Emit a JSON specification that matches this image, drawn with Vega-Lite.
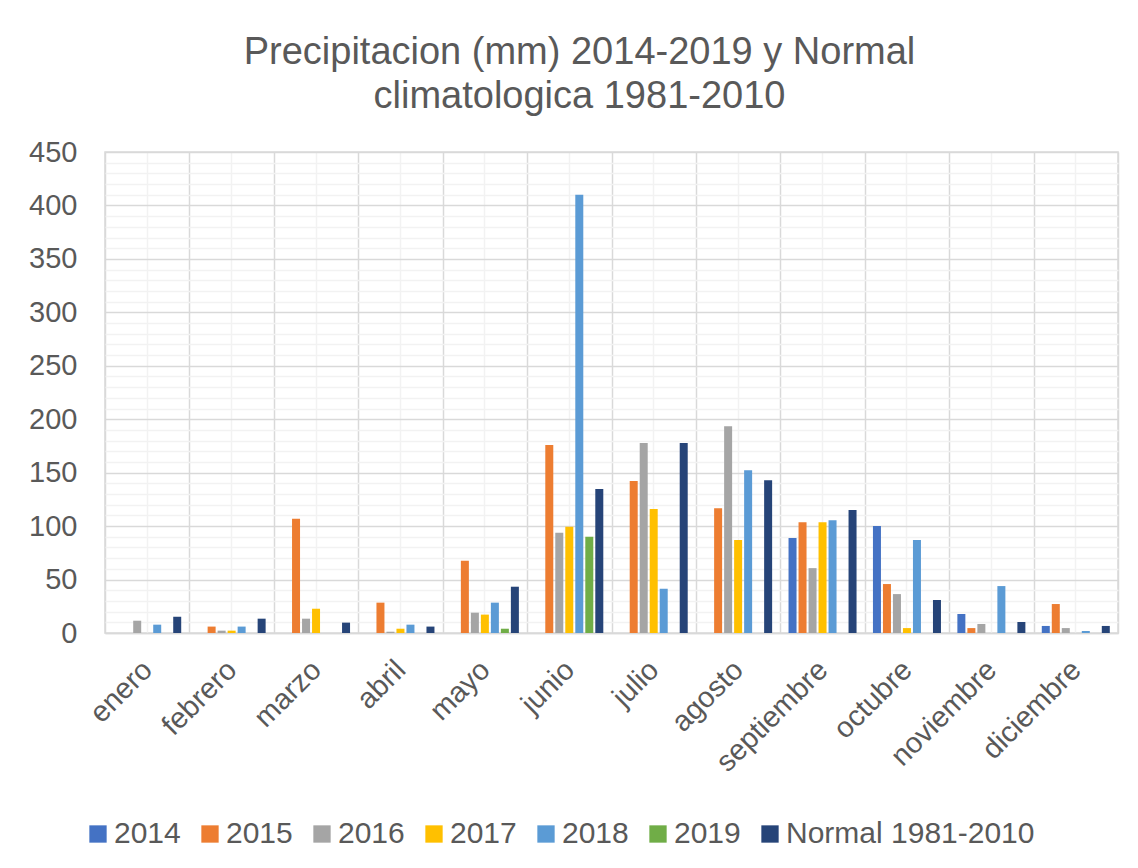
{
  "$schema": "https://vega.github.io/schema/vega-lite/v6.json",
  "width": 1013,
  "height": 481,
  "autosize": "none",
  "padding": {"left": 105, "top": 152, "right": 20, "bottom": 235},
  "background": "white",
  "title": {
    "text": ["Precipitacion (mm) 2014-2019 y Normal", "climatologica 1981-2010"],
    "fontSize": 38,
    "fontWeight": "normal",
    "color": "#595959",
    "anchor": "middle",
    "dx": -32,
    "offset": 22,
    "lineHeight": 44
  },
  "data": {
    "values": [
      {"mes": "enero", "serie": "2016", "valor": 11.5},
      {"mes": "enero", "serie": "2018", "valor": 7.8},
      {"mes": "enero", "serie": "Normal 1981-2010", "valor": 15.2},
      {"mes": "febrero", "serie": "2015", "valor": 6.0},
      {"mes": "febrero", "serie": "2016", "valor": 2.2},
      {"mes": "febrero", "serie": "2017", "valor": 2.2},
      {"mes": "febrero", "serie": "2018", "valor": 6.0},
      {"mes": "febrero", "serie": "Normal 1981-2010", "valor": 13.4},
      {"mes": "marzo", "serie": "2015", "valor": 107},
      {"mes": "marzo", "serie": "2016", "valor": 13.4},
      {"mes": "marzo", "serie": "2017", "valor": 22.7},
      {"mes": "marzo", "serie": "Normal 1981-2010", "valor": 9.7},
      {"mes": "abril", "serie": "2015", "valor": 28.4},
      {"mes": "abril", "serie": "2016", "valor": 1.2},
      {"mes": "abril", "serie": "2017", "valor": 4.0},
      {"mes": "abril", "serie": "2018", "valor": 7.8},
      {"mes": "abril", "serie": "Normal 1981-2010", "valor": 6.0},
      {"mes": "mayo", "serie": "2015", "valor": 67.6},
      {"mes": "mayo", "serie": "2016", "valor": 19.0},
      {"mes": "mayo", "serie": "2017", "valor": 17.2},
      {"mes": "mayo", "serie": "2018", "valor": 28.4},
      {"mes": "mayo", "serie": "2019", "valor": 4.0},
      {"mes": "mayo", "serie": "Normal 1981-2010", "valor": 43.3},
      {"mes": "junio", "serie": "2015", "valor": 176},
      {"mes": "junio", "serie": "2016", "valor": 93.7},
      {"mes": "junio", "serie": "2017", "valor": 99.4},
      {"mes": "junio", "serie": "2018", "valor": 410},
      {"mes": "junio", "serie": "2019", "valor": 90},
      {"mes": "junio", "serie": "Normal 1981-2010", "valor": 134.8},
      {"mes": "julio", "serie": "2015", "valor": 142.3},
      {"mes": "julio", "serie": "2016", "valor": 177.8},
      {"mes": "julio", "serie": "2017", "valor": 116.1},
      {"mes": "julio", "serie": "2018", "valor": 41.4},
      {"mes": "julio", "serie": "Normal 1981-2010", "valor": 177.8},
      {"mes": "agosto", "serie": "2015", "valor": 116.8},
      {"mes": "agosto", "serie": "2016", "valor": 193.4},
      {"mes": "agosto", "serie": "2017", "valor": 86.9},
      {"mes": "agosto", "serie": "2018", "valor": 152.3},
      {"mes": "agosto", "serie": "Normal 1981-2010", "valor": 143},
      {"mes": "septiembre", "serie": "2014", "valor": 88.8},
      {"mes": "septiembre", "serie": "2015", "valor": 103.7},
      {"mes": "septiembre", "serie": "2016", "valor": 60.7},
      {"mes": "septiembre", "serie": "2017", "valor": 103.7},
      {"mes": "septiembre", "serie": "2018", "valor": 105.5},
      {"mes": "septiembre", "serie": "Normal 1981-2010", "valor": 115},
      {"mes": "octubre", "serie": "2014", "valor": 100},
      {"mes": "octubre", "serie": "2015", "valor": 45.8},
      {"mes": "octubre", "serie": "2016", "valor": 36.4},
      {"mes": "octubre", "serie": "2017", "valor": 4.6},
      {"mes": "octubre", "serie": "2018", "valor": 86.9},
      {"mes": "octubre", "serie": "Normal 1981-2010", "valor": 30.9},
      {"mes": "noviembre", "serie": "2014", "valor": 17.8},
      {"mes": "noviembre", "serie": "2015", "valor": 4.6},
      {"mes": "noviembre", "serie": "2016", "valor": 8.4},
      {"mes": "noviembre", "serie": "2018", "valor": 43.9},
      {"mes": "noviembre", "serie": "Normal 1981-2010", "valor": 10.3},
      {"mes": "diciembre", "serie": "2014", "valor": 6.6},
      {"mes": "diciembre", "serie": "2015", "valor": 27.1},
      {"mes": "diciembre", "serie": "2016", "valor": 4.6},
      {"mes": "diciembre", "serie": "2018", "valor": 1.9},
      {"mes": "diciembre", "serie": "Normal 1981-2010", "valor": 6.6}
    ]
  },
  "layer": [
    {
      "mark": {"type": "rule", "opacity": 0},
      "encoding": {
        "x": {
          "field": "mes",
          "type": "nominal",
          "sort": ["enero", "febrero", "marzo", "abril", "mayo", "junio", "julio", "agosto", "septiembre", "octubre", "noviembre", "diciembre"],
          "scale": {"paddingInner": 0, "paddingOuter": 0},
          "axis": {
            "orient": "bottom",
            "title": null,
            "labels": false,
            "ticks": false,
            "domain": false,
            "grid": true,
            "gridColor": "#f2f2f2",
            "gridWidth": 1.5
          }
        }
      }
    },
    {
      "mark": {"type": "bar"},
      "encoding": {
        "x": {
          "field": "mes",
          "type": "nominal",
          "sort": ["enero", "febrero", "marzo", "abril", "mayo", "junio", "julio", "agosto", "septiembre", "octubre", "noviembre", "diciembre"],
          "axis": {
            "orient": "bottom",
            "title": null,
            "labelAngle": -45,
            "labelFontSize": 29,
            "labelColor": "#595959",
            "labelPadding": 22,
            "labelOffset": -10,
            "ticks": false,
            "domainColor": "#d9d9d9",
            "domainWidth": 1.5,
            "grid": true,
            "tickBand": "extent",
            "gridColor": "#d9d9d9",
            "gridWidth": 1.5
          }
        },
        "xOffset": {
          "field": "serie",
          "type": "nominal",
          "sort": ["2014", "2015", "2016", "2017", "2018", "2019", "Normal 1981-2010"],
          "scale": {"paddingInner": 0.2, "paddingOuter": 0.82}
        },
        "y": {
          "field": "valor",
          "type": "quantitative",
          "scale": {"domain": [0, 450], "nice": false},
          "axis": {
            "title": null,
            "values": [0, 10, 20, 30, 40, 50, 60, 70, 80, 90, 100, 110, 120, 130, 140, 150, 160, 170, 180, 190, 200, 210, 220, 230, 240, 250, 260, 270, 280, 290, 300, 310, 320, 330, 340, 350, 360, 370, 380, 390, 400, 410, 420, 430, 440, 450],
            "labelExpr": "datum.value % 50 === 0 ? datum.label : ''",
            "labelOverlap": false,
            "labelFontSize": 29,
            "labelColor": "#595959",
            "labelPadding": 28,
            "ticks": false,
            "domain": false,
            "grid": true,
            "gridWidth": 1.5,
            "gridColor": {"condition": {"test": "datum.value % 50 === 0", "value": "#d9d9d9"}, "value": "#f2f2f2"}
          }
        },
        "color": {
          "field": "serie",
          "type": "nominal",
          "scale": {
            "domain": ["2014", "2015", "2016", "2017", "2018", "2019", "Normal 1981-2010"],
            "range": ["#4472C4", "#ED7D31", "#A5A5A5", "#FFC000", "#5B9BD5", "#70AD47", "#264478"]
          },
          "legend": {
            "orient": "none",
            "legendX": -22,
            "legendY": 667,
            "direction": "horizontal",
            "title": null,
            "symbolType": "square",
            "symbolSize": 300,
            "symbolStrokeWidth": 0,
            "labelFontSize": 30,
            "labelColor": "#595959",
            "labelLimit": 400,
            "labelOffset": 1,
            "columnPadding": 14
          }
        }
      }
    }
  ],
  "resolve": {"axis": {"x": "independent"}},
  "config": {
    "font": "Liberation Sans",
    "view": {"stroke": "#d9d9d9", "strokeWidth": 1.5}
  }
}
